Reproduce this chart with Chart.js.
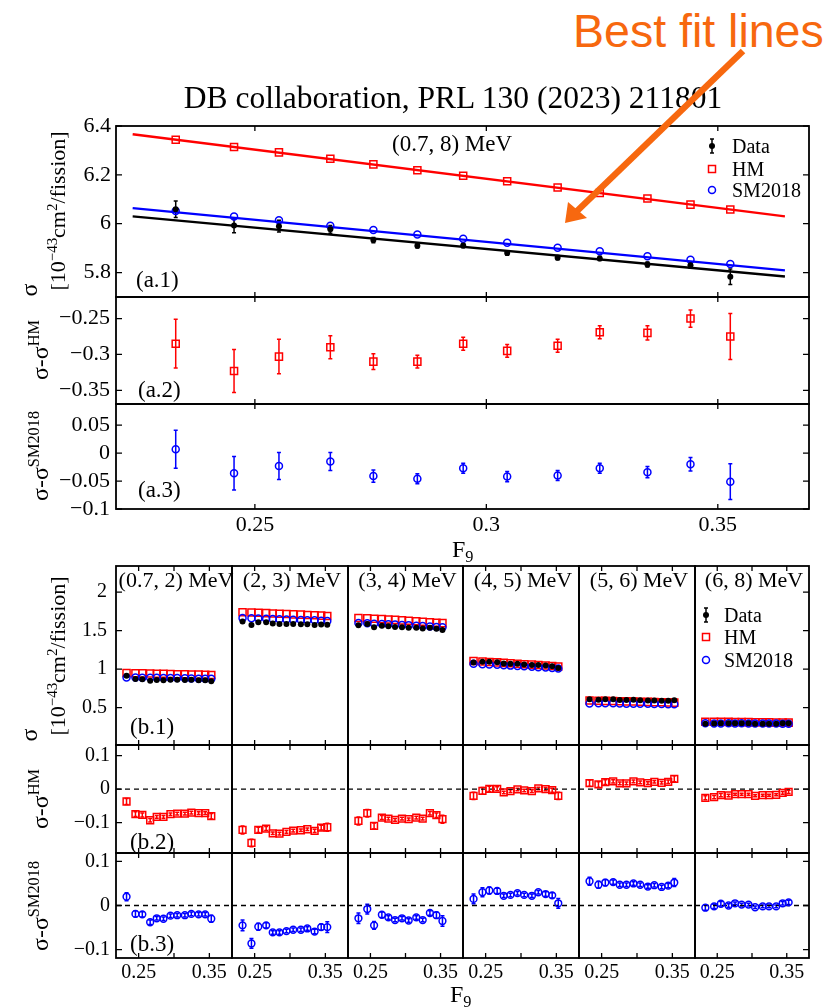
<!DOCTYPE html>
<html>
<head>
<meta charset="utf-8">
<script src="https://cdn.jsdelivr.net/npm/chart.js@4.4.1/dist/chart.umd.min.js"></script>
<style>
  body { margin: 0; background: #fff; width: 831px; height: 1007px; position: relative; overflow: hidden;
         font-family: "Liberation Serif", "DejaVu Serif", serif; color: #000; }
  canvas { position: absolute; }
  .txt { position: absolute; white-space: nowrap; line-height: 1; }
  sup { font-size: 68%; line-height: 0; vertical-align: 0.55em; }
  sub { font-size: 68%; line-height: 0; vertical-align: -0.3em; }
  svg.overlay { position: absolute; left: 0; top: 0; }
</style>
</head>
<body>
<script>
// F9 values of the 13 data points
const f9 = [0.2329,0.2455,0.2552,0.2663,0.2756,0.2851,0.2950,0.3045,0.3154,0.3245,0.3348,0.3441,0.3527];

// (a) full range (0.7, 8) MeV
const sigData = [6.059,5.993,5.990,5.977,5.933,5.910,5.911,5.880,5.861,5.858,5.833,5.830,5.783];
const sigErr  = [0.034,0.030,0.024,0.016,0.011,0.009,0.009,0.009,0.009,0.009,0.010,0.012,0.032];
const sigHM   = [6.344,6.314,6.292,6.266,6.243,6.219,6.196,6.174,6.148,6.126,6.103,6.078,6.058];
const sigSM   = [6.052,6.030,6.014,5.992,5.974,5.956,5.938,5.922,5.902,5.887,5.867,5.852,5.835];
const diffHM  = [-0.285,-0.323,-0.303,-0.290,-0.310,-0.310,-0.285,-0.295,-0.288,-0.269,-0.270,-0.250,-0.275];
const diffSM  = [0.007,-0.036,-0.023,-0.015,-0.041,-0.046,-0.027,-0.042,-0.040,-0.027,-0.034,-0.020,-0.051];
const fitF9   = [0.2236,0.3645];
const fitData = [6.030,5.784];
const fitHM   = [6.366,6.030];
const fitSM   = [6.064,5.809];

// (b) energy bins
const bins = ['(0.7, 2) MeV','(2, 3) MeV','(3, 4) MeV','(4, 5) MeV','(5, 6) MeV','(6, 8) MeV'];
const binData = [
  [0.913,0.872,0.868,0.850,0.858,0.856,0.862,0.862,0.860,0.861,0.857,0.855,0.844],
  [1.618,1.575,1.610,1.610,1.592,1.587,1.588,1.588,1.585,1.584,1.575,1.580,1.576],
  [1.570,1.588,1.545,1.565,1.557,1.548,1.546,1.538,1.537,1.528,1.538,1.526,1.508],
  [1.085,1.095,1.095,1.089,1.072,1.070,1.069,1.061,1.053,1.055,1.047,1.038,1.015],
  [0.610,0.604,0.609,0.609,0.601,0.599,0.602,0.597,0.593,0.594,0.589,0.589,0.596],
  [0.292,0.293,0.298,0.296,0.299,0.298,0.297,0.291,0.292,0.291,0.291,0.296,0.298]
];
const binHM = [
  [0.950,0.948,0.945,0.943,0.941,0.940,0.937,0.935,0.933,0.931,0.929,0.927,0.925],
  [1.740,1.737,1.732,1.728,1.724,1.720,1.716,1.712,1.708,1.704,1.700,1.695,1.690],
  [1.665,1.660,1.655,1.650,1.645,1.640,1.634,1.628,1.622,1.616,1.610,1.604,1.598],
  [1.105,1.100,1.094,1.088,1.082,1.076,1.070,1.065,1.059,1.053,1.047,1.041,1.035],
  [0.592,0.590,0.588,0.586,0.584,0.582,0.579,0.577,0.575,0.572,0.570,0.567,0.565],
  [0.318,0.317,0.316,0.315,0.314,0.313,0.312,0.311,0.310,0.309,0.308,0.307,0.306]
];
const binSM = [
  [0.893,0.891,0.888,0.888,0.887,0.886,0.885,0.884,0.882,0.880,0.877,0.875,0.874],
  [1.663,1.661,1.658,1.655,1.653,1.648,1.646,1.643,1.640,1.636,1.634,1.629,1.625],
  [1.599,1.596,1.590,1.586,1.584,1.581,1.575,1.572,1.564,1.561,1.555,1.548,1.543],
  [1.070,1.065,1.061,1.056,1.050,1.046,1.041,1.037,1.031,1.025,1.021,1.015,1.010],
  [0.555,0.557,0.557,0.556,0.554,0.552,0.552,0.550,0.550,0.548,0.547,0.544,0.544],
  [0.297,0.295,0.294,0.296,0.294,0.296,0.295,0.295,0.294,0.293,0.293,0.291,0.291]
];
const binDiffHM = [
  [-0.037,-0.075,-0.077,-0.093,-0.083,-0.083,-0.075,-0.073,-0.073,-0.070,-0.072,-0.072,-0.081],
  [-0.122,-0.161,-0.122,-0.118,-0.132,-0.133,-0.128,-0.124,-0.123,-0.120,-0.125,-0.115,-0.114],
  [-0.095,-0.072,-0.110,-0.085,-0.088,-0.092,-0.088,-0.090,-0.085,-0.088,-0.072,-0.078,-0.090],
  [-0.020,-0.005,0.001,0.001,-0.010,-0.006,-0.001,-0.004,-0.006,0.002,0.000,-0.003,-0.020],
  [0.018,0.014,0.021,0.023,0.017,0.017,0.023,0.020,0.018,0.022,0.019,0.022,0.031],
  [-0.026,-0.024,-0.018,-0.019,-0.015,-0.015,-0.015,-0.020,-0.018,-0.018,-0.017,-0.011,-0.008]
];
const binDiffSM = [
  [0.020,-0.019,-0.020,-0.038,-0.029,-0.030,-0.023,-0.022,-0.022,-0.019,-0.020,-0.020,-0.030],
  [-0.045,-0.086,-0.048,-0.045,-0.061,-0.061,-0.058,-0.055,-0.055,-0.052,-0.059,-0.049,-0.049],
  [-0.029,-0.008,-0.045,-0.021,-0.027,-0.033,-0.029,-0.034,-0.027,-0.033,-0.017,-0.022,-0.035],
  [0.015,0.030,0.034,0.033,0.022,0.024,0.028,0.024,0.022,0.030,0.026,0.023,0.005],
  [0.055,0.047,0.052,0.053,0.047,0.047,0.050,0.047,0.043,0.046,0.042,0.045,0.052],
  [-0.005,-0.002,0.004,0.000,0.005,0.002,0.002,-0.004,-0.002,-0.002,-0.002,0.005,0.007]
];
const binErr = [
  [0.009,0.007,0.006,0.005,0.004,0.004,0.004,0.004,0.004,0.004,0.004,0.004,0.008],
  [0.012,0.011,0.008,0.006,0.004,0.004,0.004,0.004,0.004,0.004,0.005,0.007,0.012],
  [0.012,0.011,0.009,0.006,0.004,0.004,0.004,0.004,0.004,0.004,0.005,0.007,0.012],
  [0.011,0.010,0.008,0.006,0.004,0.004,0.004,0.004,0.004,0.004,0.005,0.006,0.011],
  [0.009,0.008,0.007,0.005,0.004,0.004,0.004,0.004,0.004,0.004,0.004,0.005,0.009],
  [0.006,0.005,0.005,0.004,0.003,0.003,0.003,0.003,0.003,0.003,0.003,0.004,0.005]
];

// tick values
const ticksA1 = [5.8, 6, 6.2, 6.4];
const ticksA2 = [-0.35, -0.3, -0.25];
const ticksA3 = [-0.1, -0.05, 0, 0.05];
const ticksF9 = [0.25, 0.3, 0.35];
const ticksB1 = [0.5, 1, 1.5, 2];
const ticksB23 = [-0.1, 0, 0.1];
const labelsF9B = [0.25, 0.35];

const RED = '#ff0000', BLUE = '#0000ff', BLACK = '#000000';
Chart.defaults.font.family = '"Liberation Serif", "DejaVu Serif", serif';
Chart.defaults.color = '#000';

const fmt = v => String(Math.round(v * 100) / 100).replace('-', '\u2212');
const pts = (xs, ys) => xs.map((x, i) => ({ x: x, y: ys[i] }));

function dsData(ys, err, r) {
  return { data: pts(f9, ys), errors: err, errColor: BLACK, pointStyle: 'circle', pointRadius: r,
           backgroundColor: BLACK, borderColor: BLACK, borderWidth: 0 };
}
function dsHM(ys, err, r) {
  return { data: pts(f9, ys), errors: err, errColor: RED, pointStyle: 'rect', pointRadius: r,
           backgroundColor: 'rgba(0,0,0,0)', borderColor: RED, borderWidth: 1.5 };
}
function dsSM(ys, err, r) {
  return { data: pts(f9, ys), errors: err, errColor: BLUE, pointStyle: 'circle', pointRadius: r,
           backgroundColor: 'rgba(0,0,0,0)', borderColor: BLUE, borderWidth: 1.5 };
}
function dsLine(xs, ys, color, width, dash) {
  return { data: pts(xs, ys), showLine: true, fill: false, pointRadius: 0, borderColor: color,
           borderWidth: width, borderDash: dash || [] };
}

// frame, inward ticks and error bars
function framePlugin(o) {
  return {
    id: 'frame',
    beforeDatasetsDraw(chart) {
      const { ctx, chartArea: a, scales: { x, y } } = chart;
      ctx.save();
      ctx.beginPath(); ctx.rect(a.left, a.top, a.right - a.left, a.bottom - a.top); ctx.clip();
      ctx.lineWidth = 1.5;
      chart.data.datasets.forEach(ds => {
        if (!ds.errors) return;
        ctx.strokeStyle = ds.errColor;
        ds.data.forEach((p, i) => {
          const px = x.getPixelForValue(p.x);
          const y0 = y.getPixelForValue(p.y - ds.errors[i]);
          const y1 = y.getPixelForValue(p.y + ds.errors[i]);
          ctx.beginPath();
          ctx.moveTo(px, y0); ctx.lineTo(px, y1);
          ctx.moveTo(px - 2, y0); ctx.lineTo(px + 2, y0);
          ctx.moveTo(px - 2, y1); ctx.lineTo(px + 2, y1);
          ctx.stroke();
        });
      });
      ctx.restore();
    },
    afterDatasetsDraw(chart) {
      const { ctx, chartArea: a, scales: { x, y } } = chart;
      ctx.save();
      ctx.strokeStyle = BLACK;
      ctx.lineWidth = 1.3;
      ctx.beginPath();
      o.xTicks.forEach(v => {
        const px = x.getPixelForValue(v);
        ctx.moveTo(px, a.bottom); ctx.lineTo(px, a.bottom - 5);
        ctx.moveTo(px, a.top); ctx.lineTo(px, a.top + 5);
      });
      o.yTicks.forEach(v => {
        const py = y.getPixelForValue(v);
        if (o.yLeft) { ctx.moveTo(a.left, py); ctx.lineTo(a.left + 6, py); }
        if (o.yRight) { ctx.moveTo(a.right, py); ctx.lineTo(a.right - 6, py); }
      });
      ctx.stroke();
      ctx.lineWidth = 1.8;
      ctx.strokeRect(a.left, a.top, a.right - a.left, a.bottom - a.top);
      ctx.restore();
    }
  };
}

function noPad(s) { s.paddingTop = 0; s.paddingBottom = 0; s.paddingLeft = 0; s.paddingRight = 0; }

function makePanel(o) {
  const LW = o.yLabels ? 80 : 10, BH = o.xLabels ? 36 : 10, M = 14;
  const w = o.right - o.left, h = o.bottom - o.top;
  const cv = document.createElement('canvas');
  cv.width = LW + w + M; cv.height = M + h + BH;
  cv.style.left = (o.left - LW) + 'px'; cv.style.top = (o.top - M) + 'px';
  cv.style.width = cv.width + 'px'; cv.style.height = cv.height + 'px';
  document.body.appendChild(cv);
  const xShow = o.xShow || o.xTicks;
  return new Chart(cv, {
    type: 'scatter',
    data: { datasets: o.datasets },
    options: {
      responsive: false, animation: false, devicePixelRatio: 1,
      layout: { padding: { left: 0, top: M, right: M, bottom: 0 } },
      plugins: { legend: { display: false }, tooltip: { enabled: false } },
      scales: {
        x: {
          type: 'linear', min: o.xMin, max: o.xMax,
          grid: { display: false, drawTicks: false }, border: { display: false },
          afterBuildTicks: s => { s.ticks = o.xTicks.map(v => ({ value: v })); },
          afterFit: s => { s.height = BH; noPad(s); },
          ticks: { display: !!o.xLabels, padding: 3, maxRotation: 0, autoSkip: false,
                   font: { size: o.fs }, callback: v => xShow.includes(v) ? fmt(v) : '' }
        },
        y: {
          type: 'linear', min: o.yMin, max: o.yMax,
          grid: { display: false, drawTicks: false }, border: { display: false },
          afterBuildTicks: s => { s.ticks = o.yTicks.map(v => ({ value: v })); },
          afterFit: s => { s.width = LW; noPad(s); },
          ticks: { display: !!o.yLabels, padding: o.yPad || 6, autoSkip: false,
                   font: { size: o.fs }, callback: v => fmt(v) }
        }
      }
    },
    plugins: [framePlugin(o)]
  });
}

function txt(html, x, y, size, align, rot, style) {
  const d = document.createElement('div');
  d.className = 'txt';
  d.innerHTML = html;
  d.style.left = x + 'px'; d.style.top = y + 'px'; d.style.fontSize = size + 'px';
  const tx = align === 'l' ? '0' : (align === 'r' ? '-100%' : '-50%');
  d.style.transform = 'translate(' + tx + ',-50%)' + (rot ? ' rotate(-90deg)' : '');
  if (style) Object.assign(d.style, style);
  document.body.appendChild(d);
  return d;
}

// ---------- top panel (a) ----------
const A = { left: 116, right: 809, xMin: 0.22, xMax: 0.3697 };
makePanel(Object.assign({}, A, {
  top: 126, bottom: 297, yMin: 5.7, yMax: 6.4, xTicks: ticksF9, yTicks: ticksA1,
  yLabels: true, yLeft: true, yRight: true, fs: 22, yPad: 5,
  datasets: [
    dsData(sigData, sigErr, 3), dsSM(sigSM, null, 3.5), dsHM(sigHM, null, 5),
    dsLine(fitF9, fitSM, BLUE, 2.4), dsLine(fitF9, fitData, BLACK, 2.4), dsLine(fitF9, fitHM, RED, 2.4)
  ]
}));
makePanel(Object.assign({}, A, {
  top: 297, bottom: 404, yMin: -0.369, yMax: -0.22, xTicks: ticksF9, yTicks: ticksA2,
  yLabels: true, yLeft: true, yRight: true, fs: 22,
  datasets: [dsHM(diffHM, sigErr, 5)]
}));
makePanel(Object.assign({}, A, {
  top: 404, bottom: 509, yMin: -0.1, yMax: 0.088, xTicks: ticksF9, yTicks: ticksA3,
  yLabels: true, xLabels: true, yLeft: true, yRight: true, fs: 22,
  datasets: [dsSM(diffSM, sigErr, 3.5)]
}));

// ---------- bottom panel (b) ----------
const colEdges = [116, 232, 348, 463, 579, 695, 809];
const rowEdges = [566, 745, 853, 958];
for (let c = 0; c < 6; c++) {
  const base = { left: colEdges[c], right: colEdges[c + 1], xMin: 0.218, xMax: 0.382, xTicks: ticksF9,
                 yLabels: c === 0, yLeft: c === 0, yRight: c === 5, fs: 20 };
  makePanel(Object.assign({}, base, {
    top: rowEdges[0], bottom: rowEdges[1], yMin: 0.015, yMax: 2.34, yTicks: ticksB1, yPad: 9,
    datasets: [dsData(binData[c], binErr[c], 3), dsSM(binSM[c], null, 3.5), dsHM(binHM[c], null, 5)]
  }));
  makePanel(Object.assign({}, base, {
    top: rowEdges[1], bottom: rowEdges[2], yMin: -0.191, yMax: 0.132, yTicks: ticksB23,
    datasets: [dsHM(binDiffHM[c], binErr[c], 4.8), dsLine([0.218, 0.382], [0, 0], BLACK, 1.3, [5, 4])]
  }));
  makePanel(Object.assign({}, base, {
    top: rowEdges[2], bottom: rowEdges[3], yMin: -0.119, yMax: 0.119, yTicks: ticksB23,
    xLabels: true, xShow: labelsF9B,
    datasets: [dsSM(binDiffSM[c], binErr[c], 3.4), dsLine([0.218, 0.382], [0, 0], BLACK, 1.3, [5, 4])]
  }));
}

// ---------- texts ----------
txt('DB collaboration, PRL 130 (2023) 211801', 453, 98, 31.5, 'c');
txt('Best fit lines', 573, 31, 46.5, 'l', false, { fontFamily: '"Liberation Sans", Arial, sans-serif', color: '#f7680f' });

txt('(0.7, 8) MeV', 392, 143, 23, 'l');
txt('(a.1)', 136, 279, 23, 'l');
txt('(a.2)', 138, 389, 23, 'l');
txt('(a.3)', 138, 489, 23, 'l');
txt('F<sub>9</sub>', 452, 549, 24, 'l');

txt('\u03c3', 29, 290, 24, 'c', true);
txt('[10<sup>\u221243</sup>cm<sup>2</sup>/fission]', 58, 211, 22, 'c', true);
txt('\u03c3-\u03c3<sup>HM</sup>', 40, 350, 24, 'c', true);
txt('\u03c3-\u03c3<sup>SM2018</sup>', 40, 456, 24, 'c', true);

bins.forEach((b, c) => txt(b, (colEdges[c] + colEdges[c + 1]) / 2 + 2, 580, 22, 'c'));
txt('(b.1)', 130, 726, 23, 'l');
txt('(b.2)', 130, 841, 23, 'l');
txt('(b.3)', 130, 943, 23, 'l');
txt('F<sub>9</sub>', 450, 994, 24, 'l');

txt('\u03c3', 29, 735, 24, 'c', true);
txt('[10<sup>\u221243</sup>cm<sup>2</sup>/fission]', 58, 656, 22, 'c', true);
txt('\u03c3-\u03c3<sup>HM</sup>', 40, 799, 24, 'c', true);
txt('\u03c3-\u03c3<sup>SM2018</sup>', 40, 906, 24, 'c', true);

// legends
function legend(mx, tx, ys) {
  txt('Data', tx, ys[0], 20, 'l');
  txt('HM', tx, ys[1], 20, 'l');
  txt('SM2018', tx, ys[2], 20, 'l');
  return '<line x1="' + mx + '" y1="' + (ys[0] - 7) + '" x2="' + mx + '" y2="' + (ys[0] + 7) + '" stroke="#000" stroke-width="1.5"/>' +
    '<line x1="' + (mx - 2) + '" y1="' + (ys[0] - 7) + '" x2="' + (mx + 2) + '" y2="' + (ys[0] - 7) + '" stroke="#000" stroke-width="1.5"/>' +
    '<line x1="' + (mx - 2) + '" y1="' + (ys[0] + 7) + '" x2="' + (mx + 2) + '" y2="' + (ys[0] + 7) + '" stroke="#000" stroke-width="1.5"/>' +
    '<circle cx="' + mx + '" cy="' + ys[0] + '" r="3" fill="#000"/>' +
    '<rect x="' + (mx - 3.5) + '" y="' + (ys[1] - 3.5) + '" width="7" height="7" fill="none" stroke="' + RED + '" stroke-width="1.5"/>' +
    '<circle cx="' + mx + '" cy="' + ys[2] + '" r="3.5" fill="none" stroke="' + BLUE + '" stroke-width="1.5"/>';
}
let svg = legend(712, 732, [146, 169, 190]) + legend(706, 724, [615, 637, 660]);
// orange arrow
svg += '<line x1="743" y1="51" x2="576" y2="212" stroke="#f7680f" stroke-width="6.5"/>' +
       '<polygon points="565,223 568,202 587,218" fill="#f7680f"/>';
const ov = document.createElementNS('http://www.w3.org/2000/svg', 'svg');
ov.setAttribute('class', 'overlay'); ov.setAttribute('width', 831); ov.setAttribute('height', 1007);
ov.innerHTML = svg;
document.body.appendChild(ov);
</script>
</body>
</html>
